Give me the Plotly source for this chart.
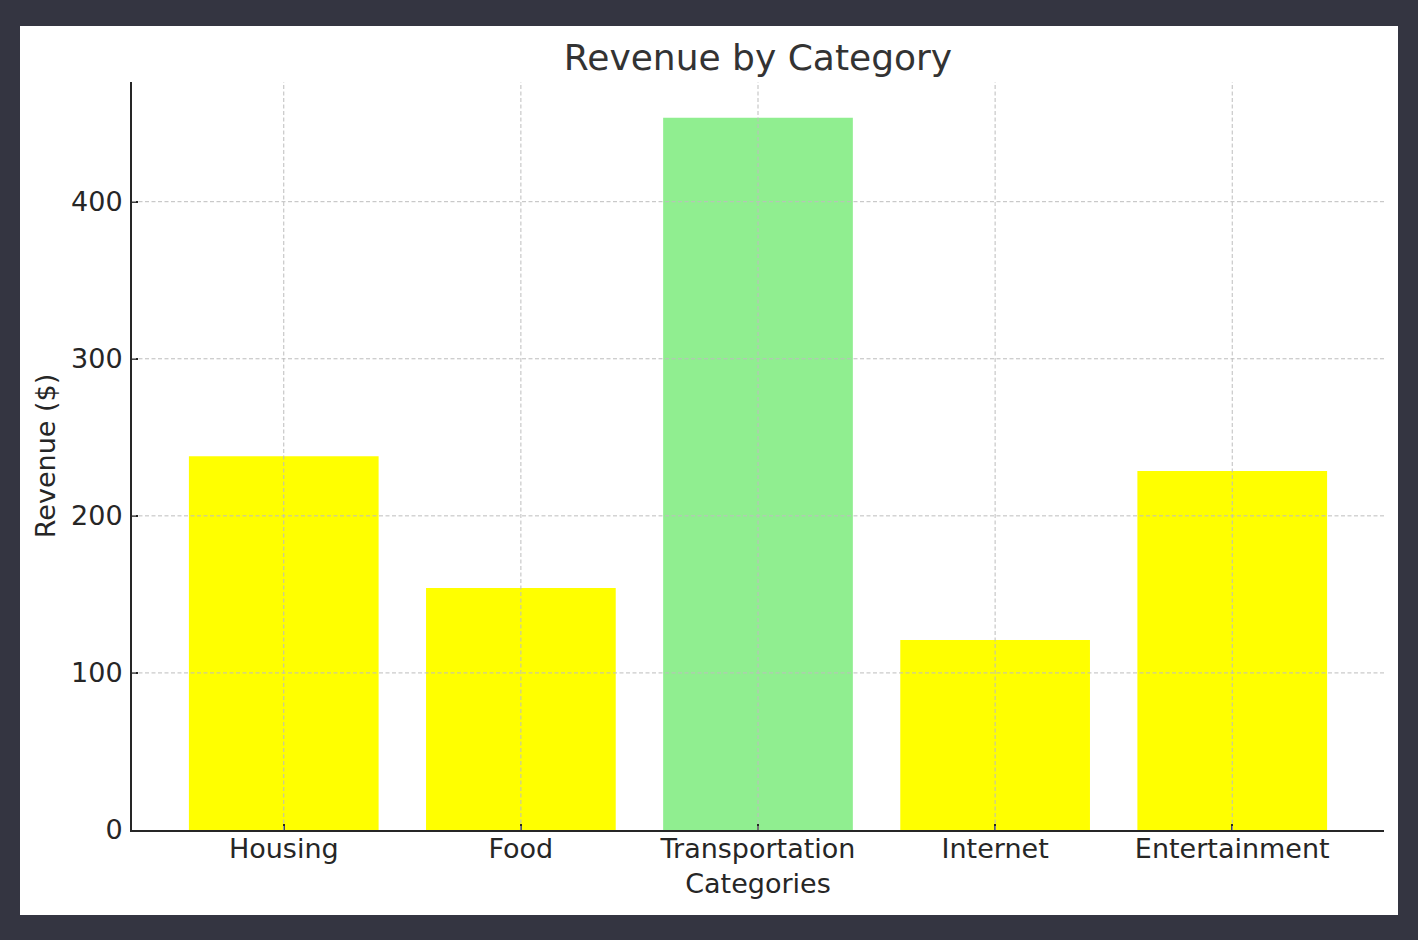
import plotly.graph_objects as go

categories = ["Housing", "Food", "Transportation", "Internet", "Entertainment"]
revenue = [238, 154, 453.5, 121, 228.5]
bar_colors = ["#FFFF00", "#FFFF00", "#90EE90", "#FFFF00", "#FFFF00"]
y_ticks = [0, 100, 200, 300, 400]

W, H = 1418, 940
L, R, T, B = 132, 34, 82, 110
pw, ph = W - L - R, H - T - B

fig = go.Figure()
fig.add_trace(go.Bar(x=categories, y=revenue, marker=dict(color=bar_colors, line=dict(width=0)),
                     width=0.8, showlegend=False))

shapes = []
# white panel
shapes.append(dict(type="rect", xref="paper", yref="paper",
                   x0=(20 - L) / pw, x1=(1398 - L) / pw,
                   y0=(H - B - 915) / ph, y1=(H - B - 26) / ph,
                   fillcolor="white", line=dict(width=0), layer="below"))
grid_style = dict(color="#bdbdbd", width=1, dash="4px,2.5px")
for c in categories:
    shapes.append(dict(type="line", xref="x", yref="paper", x0=c, x1=c, y0=0, y1=1,
                       line=grid_style, layer="above"))
for v in y_ticks[1:]:
    shapes.append(dict(type="line", xref="paper", yref="y", x0=0, x1=1, y0=v, y1=v,
                       line=grid_style, layer="above"))

font_fam = "DejaVu Sans"
fs = 27
fig.update_layout(
    width=W, height=H,
    margin=dict(l=L, r=R, t=T, b=B),
    paper_bgcolor="#343541",
    plot_bgcolor="rgba(0,0,0,0)",
    shapes=shapes,
    font=dict(family=font_fam, color="#262626", size=fs),
    title=dict(text="Revenue by Category", x=0.5, xanchor="center", xref="paper",
               y=1 - 57 / H, yanchor="middle", yref="container",
               font=dict(size=36, color="#333333", family=font_fam)),
    bargap=0.2,
)
fig.update_xaxes(
    range=[-0.64, 4.64], showgrid=False, showline=True, linecolor="#262626", linewidth=2,
    ticks="inside", ticklen=6, tickwidth=1.5, tickcolor="#262626",
    tickfont=dict(size=fs, color="#262626"), ticklabelstandoff=-6,
    title=dict(text="Categories", font=dict(size=fs, color="#262626"), standoff=11),
    layer="above traces", mirror=False,
)
fig.update_yaxes(
    range=[0, 476.2], showgrid=False, zeroline=False, showline=True, linecolor="#262626", linewidth=2,
    ticks="inside", ticklen=6, tickwidth=1.5, tickcolor="#262626",
    tickmode="array", tickvals=y_ticks, ticktext=[str(v) for v in y_ticks],
    tickfont=dict(size=fs, color="#262626"), ticklabelstandoff=2,
    title=dict(text="Revenue ($)", font=dict(size=fs, color="#262626"), standoff=8),
    layer="above traces",
)

fig.write_html(
    "out.html",
    config={"displayModeBar": False},
    post_script="document.body.style.margin='0';document.body.style.background='#343541';",
)
